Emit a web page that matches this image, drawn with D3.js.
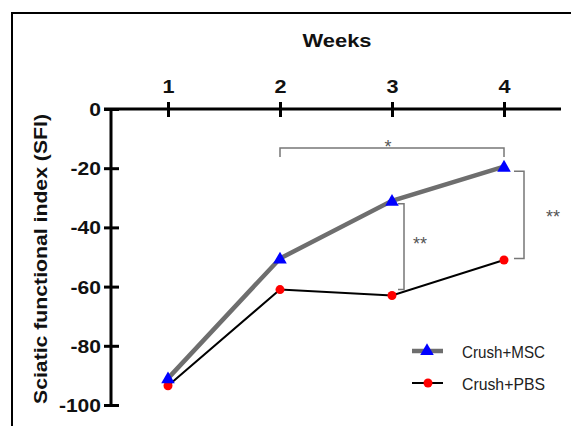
<!DOCTYPE html>
<html>
<head>
<meta charset="utf-8">
<script src="https://cdn.jsdelivr.net/npm/d3@7"></script>
<style>
  body { margin: 0; background: #fff; }
  svg { display: block; font-family: "Liberation Sans", Arial, sans-serif; }
</style>
</head>
<body>
<div id="chart"></div>
<script>
var weeks = [1, 2, 3, 4];
var mscValues = [-91, -50.5, -31, -19.5];
var pbsValues = [-93.5, -61, -63, -51];
var yTicks = [0, -20, -40, -60, -80, -100];
var seriesNames = ["Crush+MSC", "Crush+PBS"];

var W = 571, H = 426;
var stretch = 1.17; // 原图文字横向拉伸

var svg = d3.select("#chart").append("svg")
    .attr("width", W)
    .attr("height", H);

// 外框
svg.append("rect")
    .attr("x", 12).attr("y", 13)
    .attr("width", W).attr("height", H)
    .style("fill", "none")
    .style("stroke", "#000")
    .style("stroke-width", 2);

var x = d3.scaleLinear().domain([1, 4]).range([168, 504]);
var y = d3.scaleLinear().domain([0, -100]).range([109, 405]);
var axisX0 = 111;

// x axis (top, at 0)
var xAxis = d3.axisTop(x).tickValues(weeks).tickFormat(function (d) { return String(d); })
    .tickSizeInner(7).tickSizeOuter(0);
var gx = svg.append("g")
    .attr("transform", "translate(0," + y(0) + ")")
    .call(xAxis);
gx.select(".domain").remove();
gx.append("line")
    .attr("x1", 104).attr("x2", 561)
    .attr("y1", 0).attr("y2", 0)
    .style("stroke", "#000").style("stroke-width", 3);
gx.selectAll(".tick line")
    .attr("y1", -7).attr("y2", 8)
    .style("stroke", "#000").style("stroke-width", 3);
gx.selectAll(".tick text")
    .attr("y", -16)
    .attr("transform", "scale(" + stretch + ",1)")
    .style("font-size", "18.5px")
    .style("font-weight", "bold")
    .style("fill", "#111");

svg.append("text")
    .attr("x", 337).attr("y", 47)
    .attr("text-anchor", "middle")
    .attr("textLength", 69)
    .attr("lengthAdjust", "spacingAndGlyphs")
    .text("Weeks")
    .style("font-size", "18.5px")
    .style("font-weight", "bold")
    .style("fill", "#111");

// y axis
var yAxis = d3.axisLeft(y).tickValues(yTicks).tickFormat(function (d) { return String(d); })
    .tickSizeInner(7).tickSizeOuter(0);
var gy = svg.append("g")
    .attr("transform", "translate(" + axisX0 + ",0)")
    .call(yAxis);
gy.select(".domain").remove();
gy.append("line")
    .attr("x1", 0).attr("x2", 0)
    .attr("y1", y(0)).attr("y2", y(-100) + 1)
    .style("stroke", "#000").style("stroke-width", 3);
gy.selectAll(".tick line")
    .attr("x1", -7).attr("x2", 8)
    .style("stroke", "#000").style("stroke-width", 3);
gy.selectAll(".tick text")
    .attr("x", -10 / stretch)
    .attr("dy", "0.36em")
    .attr("transform", "scale(" + stretch + ",1)")
    .style("font-size", "18px")
    .style("font-weight", "bold")
    .style("fill", "#111");

svg.append("text")
    .attr("transform", "translate(47,259) rotate(-90)")
    .attr("text-anchor", "middle")
    .attr("textLength", 290)
    .attr("lengthAdjust", "spacingAndGlyphs")
    .text("Sciatic functional index (SFI)")
    .style("font-size", "18px")
    .style("font-weight", "bold")
    .style("fill", "#111");

// significance brackets
var br = svg.append("g")
    .style("fill", "none")
    .style("stroke", "#777")
    .style("stroke-width", 1.5);
br.append("path").attr("d", "M" + x(2) + "," + 157 + "V148H" + x(4) + "V157");
br.append("path").attr("d", "M" + (x(3) + 6) + "," + y(-32) + "H" + (x(3) + 12) + "V" + y(-61) + "H" + (x(3) + 6));
br.append("path").attr("d", "M" + (x(4) + 10) + "," + y(-21) + "H" + (x(4) + 20) + "V" + y(-50.5) + "H" + (x(4) + 10));

svg.append("text").attr("x", 388).attr("y", 153).attr("text-anchor", "middle")
    .text("*").style("font-size", "18px").style("fill", "#555");
svg.append("text").attr("x", 420).attr("y", 250).attr("text-anchor", "middle")
    .text("**").style("font-size", "18px").style("fill", "#555");
svg.append("text").attr("x", 553).attr("y", 223).attr("text-anchor", "middle")
    .text("**").style("font-size", "18px").style("fill", "#555");

// lines
var lineGen = d3.line()
    .x(function (d, i) { return x(weeks[i]); })
    .y(function (d) { return y(d); });

svg.append("path").datum(pbsValues)
    .attr("d", lineGen)
    .style("fill", "none").style("stroke", "#000").style("stroke-width", 2);
svg.append("path").datum(mscValues)
    .attr("d", lineGen)
    .style("fill", "none").style("stroke", "#6e6e6e").style("stroke-width", 4.5);

var tri = d3.symbol().type(d3.symbolTriangle).size(80);

svg.selectAll("circle.pbs").data(pbsValues).enter()
    .append("circle").attr("class", "pbs")
    .attr("cx", function (d, i) { return x(weeks[i]); })
    .attr("cy", function (d) { return y(d); })
    .attr("r", 4.5)
    .style("fill", "#ff0000");

svg.selectAll("path.msc").data(mscValues).enter()
    .append("path").attr("class", "msc")
    .attr("transform", function (d, i) { return "translate(" + x(weeks[i]) + "," + (y(d) + 1) + ")"; })
    .attr("d", tri)
    .style("fill", "#0000ff");

// legend
var lg = svg.append("g");
lg.append("line").attr("x1", 412).attr("x2", 443).attr("y1", 351).attr("y2", 351)
    .style("stroke", "#6e6e6e").style("stroke-width", 4.5);
lg.append("path").attr("transform", "translate(427,351)").attr("d", tri).style("fill", "#0000ff");
lg.append("line").attr("x1", 412).attr("x2", 443).attr("y1", 383).attr("y2", 383)
    .style("stroke", "#000").style("stroke-width", 2);
lg.append("circle").attr("cx", 428).attr("cy", 383).attr("r", 4.5).style("fill", "#ff0000");
lg.selectAll("text").data(seriesNames).enter()
    .append("text")
    .attr("x", 462)
    .attr("y", function (d, i) { return 358 + i * 32; })
    .attr("textLength", 83)
    .attr("lengthAdjust", "spacingAndGlyphs")
    .text(function (d) { return d; })
    .style("font-size", "17px")
    .style("fill", "#222");
</script>
</body>
</html>
